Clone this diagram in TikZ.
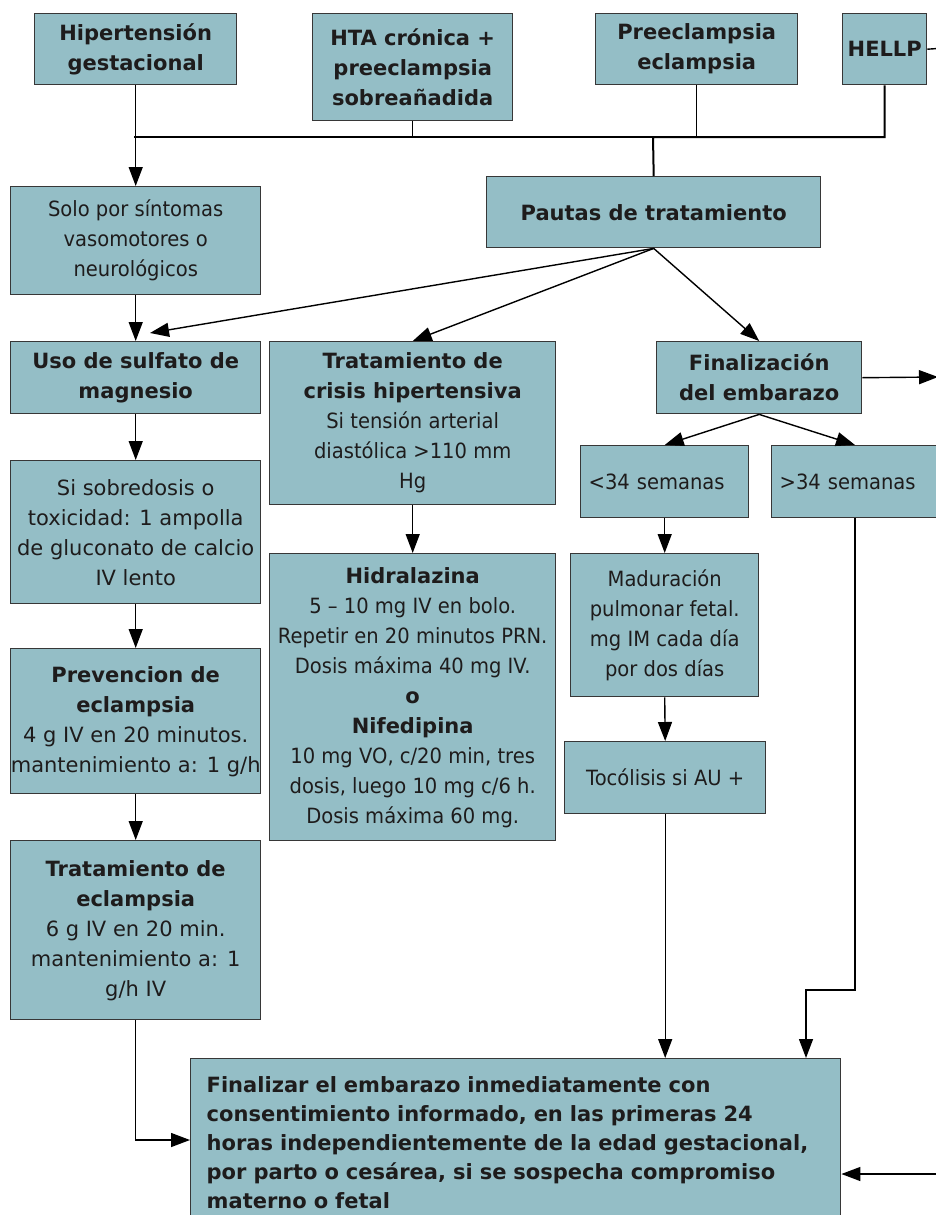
\documentclass[tikz,border=0pt]{standalone}
\usepackage{fontspec}
\setmainfont{DejaVu Sans}
\newfontfamily\tf[FakeStretch=0.93]{DejaVu Sans}
\usetikzlibrary{arrows.meta}
\definecolor{boxfill}{RGB}{148,190,198}
\definecolor{boxline}{RGB}{55,55,55}
\definecolor{txt}{RGB}{30,28,28}
\newcommand\B{\normalfont\bfseries}
\tikzset{
  box/.style={draw=boxline, fill=boxfill, line width=1.4pt, inner sep=0pt, align=center,
    text=txt, anchor=north west, font=\fontsize{21pt}{30pt}\selectfont},
  vbox/.style={box},
  tbox/.style={box, font=\fontsize{21pt}{30pt}\selectfont\tf},
  bbox/.style={box, font=\fontsize{21pt}{30pt}\selectfont\bfseries},
  ln/.style={draw=black, line width=1.4pt},
  arr/.style={ln, -{Triangle[length=19pt,width=14pt]}},
}
\begin{document}
\begin{tikzpicture}[x=1pt,y=-1pt]
\useasboundingbox (0,0) rectangle (936,1215);
\clip (0,0) rectangle (936,1215);
% top row
\node[bbox, minimum width=202pt, minimum height=71pt] (hg) at (34,13) {Hipertensión\\gestacional};
\node[bbox, minimum width=200pt, minimum height=107pt] (hta) at (312,13) {HTA crónica +\\preeclampsia\\sobreañadida};
\node[bbox, minimum width=202pt, minimum height=71pt] (pe) at (595,13) {Preeclampsia\\eclampsia};
\node[bbox, minimum width=84pt, minimum height=71pt] (hellp) at (842,13) {HELLP};
% second row
\node[tbox, minimum width=250pt, minimum height=108pt] (solo) at (10,186) {Solo por síntomas\\vasomotores o\\neurológicos};
\node[bbox, minimum width=334pt, minimum height=71pt] (pautas) at (486,176) {Pautas de tratamiento};
% third row
\node[bbox, minimum width=250pt, minimum height=72pt] (uso) at (10,341) {Uso de sulfato de\\magnesio};
\node[tbox, minimum width=286pt, minimum height=163pt] (tc) at (269,341) {{\B Tratamiento de}\\{\B crisis hipertensiva}\\Si tensión arterial\\diastólica >110 mm\\Hg};
\node[bbox, minimum width=205pt, minimum height=72pt] (fin) at (656,341) {Finalización\\del embarazo};
\node[tbox, align=left, text width=152pt, inner xsep=8pt, minimum height=72pt] (lt) at (580,445) {<34 semanas};
\node[tbox, align=left, text width=160pt, inner xsep=8pt, minimum height=72pt] (gt) at (771,445) {>34 semanas};
% left column
\node[vbox, minimum width=250pt, minimum height=143pt] (sob) at (10,460) {Si sobredosis o\\toxicidad: 1 ampolla\\de gluconato de calcio\\IV lento};
\node[vbox, minimum width=250pt, minimum height=145pt] (prev) at (10,648) {{\B Prevencion de}\\{\B eclampsia}\\4 g IV en 20 minutos.\\mantenimiento a: 1 g/h};
\node[vbox, minimum width=250pt, minimum height=179pt] (te) at (10,840) {{\B Tratamiento de}\\{\B eclampsia}\\6 g IV en 20 min.\\mantenimiento a: 1\\g/h IV};
% middle column
\node[tbox, minimum width=286pt, minimum height=287pt] (hid) at (269,553) {{\B Hidralazina}\\5 – 10 mg IV en bolo.\\Repetir en 20 minutos PRN.\\Dosis máxima 40 mg IV.\\{\B o}\\{\B Nifedipina}\\10 mg VO, c/20 min, tres\\dosis, luego 10 mg c/6 h.\\Dosis máxima 60 mg.};
% right column
\node[tbox, minimum width=188pt, minimum height=143pt] (mad) at (570,553) {Maduración\\pulmonar fetal.\\mg IM cada día\\por dos días};
\node[tbox, minimum width=201pt, minimum height=72pt] (toc) at (564,741) {Tocólisis si AU +};
% final box
\node[box, font=\fontsize{21pt}{29pt}\selectfont\bfseries, align=left, text width=618pt, inner xsep=16pt, inner ysep=18pt] (final) at (190,1058)
  {Finalizar el embarazo inmediatamente con\\consentimiento informado, en las primeras 24\\horas independientemente de la edad gestacional,\\por parto o cesárea, si se sospecha compromiso\\materno o fetal};
% helper coordinates
\coordinate (jL) at (134,137);
\coordinate (jR) at (653,137);
\coordinate (hr) at (945,48);
\coordinate (t1) at (150,333);
\coordinate (fr) at (938,377);
\coordinate (bend) at (806,990);
\coordinate (lin) at (190,1140);
\coordinate (rr) at (945,1174);
% top connectors
\draw[arr] (hg.south) -- (solo.north);
\draw[ln] (jL) -- (pe.south |- jL) -- (pe.south);
\draw[ln] (hta.south) -- (hta.south |- jL);
\draw[ln, line width=2pt] (hellp.south) |- (jR) -- (pautas.north);
\draw[ln] (hellp.east) -- (hr);
% pautas fan
\draw[arr] (solo.south) -- (uso.north);
\draw[arr] (pautas.south) -- (t1);
\draw[arr] (pautas.south) -- (tc.north);
\draw[arr] (pautas.south) -- (fin.north);
\draw[arr] (fin.east) -- (fr);
\draw[arr] (fin.south) -- (lt.north);
\draw[arr] (fin.south) -- (gt.north -| 855,0);
% left column
\draw[arr] (uso.south) -- (sob.north);
\draw[arr] (sob.south) -- (prev.north);
\draw[arr] (prev.south) -- (te.north);
\draw[arr] (te.south) |- (lin);
% middle
\draw[arr] (tc.south) -- (hid.north);
% right
\draw[arr] (lt.south) -- (mad.north);
\draw[arr] (mad.south) -- (toc.north);
\draw[arr] (toc.south) -- (toc.south |- final.north);
\draw[arr] (gt.south -| 855,0) -- (855,990) -- (bend) -- (bend |- final.north);
\draw[arr] (rr) -- (rr -| final.east);
\end{tikzpicture}
\end{document}
